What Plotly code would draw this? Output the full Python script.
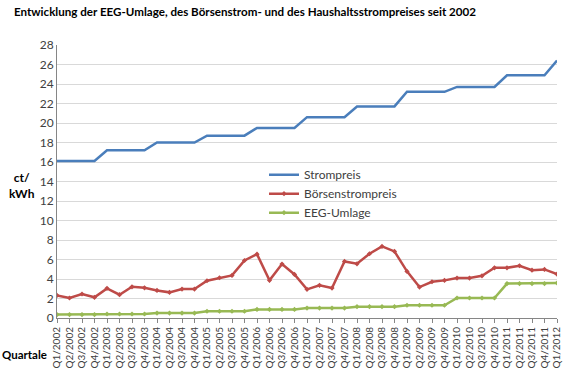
import plotly.graph_objects as go

quarters = [f"Q{q}/{y}" for y in range(2002, 2012) for q in range(1, 5)] + ["Q1/2012"]

strompreis = [16.1] * 4 + [17.2] * 4 + [18.0] * 4 + [18.7] * 4 + [19.5] * 4 + \
    [20.6] * 4 + [21.7] * 4 + [23.2] * 4 + [23.7] * 4 + [24.9] * 4 + [26.4]

boersenstrompreis = [2.32, 2.05, 2.46, 2.12, 3.04, 2.39, 3.2, 3.1, 2.83, 2.63,
                     2.97, 2.97, 3.82, 4.13, 4.37, 5.9, 6.55, 3.86, 5.53, 4.47,
                     2.94, 3.35, 3.07, 5.8, 5.56, 6.59, 7.34, 6.83, 4.78, 3.17,
                     3.72, 3.86, 4.1, 4.1, 4.33, 5.15, 5.15, 5.36, 4.91, 4.98, 4.5]

eeg_umlage = [0.35] * 4 + [0.41] * 4 + [0.51] * 4 + [0.69] * 4 + [0.88] * 4 + \
    [1.02] * 4 + [1.16] * 4 + [1.31] * 4 + [2.05] * 4 + [3.53] * 4 + [3.59]

y_ticks = list(range(0, 29, 2))

FONT = "Lato, 'Open Sans', sans-serif"

fig = go.Figure()
fig.add_trace(go.Scatter(x=quarters, y=strompreis, name="Strompreis", mode="lines",
                         line=dict(color="#4a7ebb", width=2.5)))
fig.add_trace(go.Scatter(x=quarters, y=boersenstrompreis, name="Börsenstrompreis",
                         mode="lines+markers", line=dict(color="#be4b48", width=2.5),
                         marker=dict(symbol="diamond", size=4, color="#be4b48")))
fig.add_trace(go.Scatter(x=quarters, y=eeg_umlage, name="EEG-Umlage",
                         mode="lines+markers", line=dict(color="#98b954", width=2.5),
                         marker=dict(symbol="diamond", size=4, color="#98b954")))

fig.update_layout(
    width=572, height=385,
    margin=dict(l=57, r=15, t=45, b=67),
    paper_bgcolor="white", plot_bgcolor="white",
    font=dict(family=FONT, size=12, color="#404040"),
    showlegend=True,
    legend=dict(x=0.414, y=0.578, xanchor="left", yanchor="top",
                bgcolor="rgba(0,0,0,0)", font=dict(size=12, color="#404040"),
                tracegroupgap=0, itemwidth=30),
    xaxis=dict(type="category", range=[0, 40], showgrid=False, automargin=False,
               tickmode="array", tickvals=quarters, ticktext=quarters,
               showline=True, linecolor="#868686", linewidth=1,
               ticks="outside", ticklen=4, tickcolor="#868686",
               tickangle=-90, tickfont=dict(size=10, color="#404040")),
    yaxis=dict(range=[0, 28], tickvals=y_ticks, showgrid=True, automargin=False,
               gridcolor="#d9d9d9", gridwidth=1,
               showline=True, linecolor="#868686", linewidth=1,
               zeroline=False, ticks="", tickfont=dict(size=12, color="#404040")),
)

fig.add_annotation(text="<b>Entwicklung der EEG-Umlage, des Börsenstrom- und des Haushaltsstrompreises seit 2002</b>",
                   xref="paper", yref="paper", x=(12 - 57) / 500, y=(318 - 12) / 273,
                   xanchor="left", yanchor="middle", showarrow=False,
                   font=dict(size=11.6, color="black", family=FONT))
fig.add_annotation(text="<b>ct/<br>kWh</b>", xref="paper", yref="paper",
                   x=(22 - 57) / 500, y=(318 - 185) / 273, xanchor="center", yanchor="middle",
                   showarrow=False, font=dict(size=12, color="black", family=FONT))
fig.add_annotation(text="<b>Quartale</b>", xref="paper", yref="paper",
                   x=(49 - 57) / 500, y=(318 - 354) / 273, xanchor="right", yanchor="middle",
                   showarrow=False, font=dict(size=11.5, color="black", family=FONT))

fig.write_html("out.html", config={"displayModeBar": False},
               post_script="document.body.style.margin='0';")
